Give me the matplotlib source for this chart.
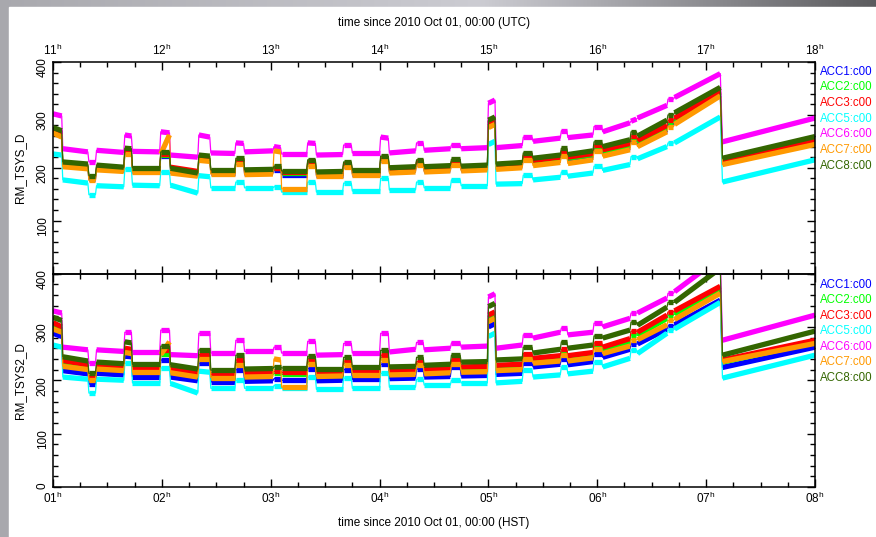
import numpy as np
import matplotlib
matplotlib.use("Agg")
import matplotlib.pyplot as plt
from matplotlib.collections import LineCollection
from matplotlib.patches import Rectangle
from matplotlib.ticker import MultipleLocator, FixedLocator

plt.rcParams['font.family'] = ['Liberation Sans', 'DejaVu Sans']
plt.rcParams['mathtext.default'] = 'regular'

# Knot times (hours HST), grouped as (segment start, segment end) pairs
t_knots = [1.00, 1.08, 1.09, 1.32, 1.33, 1.39, 1.40, 1.65, 1.66, 1.72,
           1.73, 1.98, 1.99, 2.07, 2.08, 2.33, 2.34, 2.44, 2.45, 2.67,
           2.68, 2.75, 2.76, 3.02, 3.03, 3.09, 3.10, 3.33, 3.34, 3.41,
           3.42, 3.66, 3.67, 3.74, 3.75, 4.00, 4.01, 4.08, 4.09, 4.33,
           4.34, 4.40, 4.41, 4.65, 4.66, 4.74, 4.75, 4.99, 5.00, 5.06,
           5.07, 5.31, 5.32, 5.40, 5.41, 5.66, 5.67, 5.72, 5.73, 5.96,
           5.97, 6.04, 6.05, 6.30, 6.31, 6.36, 6.37, 6.64, 6.65, 6.70,
           6.71, 7.13, 7.15, 8.00]

hst_hours = [1, 2, 3, 4, 5, 6, 7, 8]
utc_hours = [11, 12, 13, 14, 15, 16, 17, 18]

names = ['ACC1:c00', 'ACC2:c00', 'ACC3:c00', 'ACC5:c00',
         'ACC6:c00', 'ACC7:c00', 'ACC8:c00']
colors = ['#0000ff', '#00ff00', '#ff0000', '#00ffff',
          '#ff00ff', '#ff9900', '#336600']

# RM_TSYS_D
tsys_acc1 = [268, 262, 204, 200, 178, 178, 198, 195, 229, 228,
             194, 194, 222, 222, 193, 186, 216, 214, 190, 190,
             210, 210, 189, 190, 196, 196, 187, 187, 207, 207,
             186, 186, 204, 204, 189, 189, 214, 214, 193, 195,
             208, 208, 194, 196, 208, 208, 196, 198, 278, 284,
             200, 203, 218, 218, 208, 214, 226, 226, 213, 220,
             236, 236, 226, 238, 250, 250, 242, 272, 282, 282,
             286, 338, 208, 247]
tsys_acc2 = [270, 264, 207, 203, 182, 182, 201, 198, 232, 231,
             197, 197, 225, 225, 197, 190, 219, 217, 193, 193,
             213, 213, 193, 194, 199, 199, 191, 191, 211, 211,
             190, 190, 207, 207, 193, 193, 217, 217, 196, 198,
             211, 211, 198, 200, 211, 211, 199, 201, 282, 288,
             203, 206, 222, 222, 212, 218, 230, 230, 218, 225,
             240, 240, 231, 243, 256, 256, 248, 276, 286, 286,
             290, 342, 212, 251]
tsys_acc3 = [272, 266, 208, 204, 183, 183, 202, 199, 233, 232,
             198, 198, 226, 226, 201, 193, 220, 218, 194, 194,
             214, 214, 194, 195, 200, 200, 192, 192, 212, 212,
             191, 191, 208, 208, 194, 194, 218, 218, 197, 199,
             212, 212, 199, 201, 212, 212, 200, 202, 284, 290,
             204, 207, 224, 224, 214, 220, 232, 232, 220, 227,
             243, 243, 234, 246, 260, 260, 252, 280, 290, 290,
             294, 345, 214, 253]
tsys_acc5 = [226, 224, 177, 171, 149, 149, 166, 164, 198, 198,
             167, 166, 192, 192, 167, 152, 185, 183, 162, 162,
             173, 173, 162, 162, 164, 164, 154, 154, 173, 173,
             154, 154, 171, 171, 156, 156, 180, 180, 158, 158,
             173, 173, 162, 162, 177, 177, 166, 166, 244, 250,
             169, 170, 186, 186, 177, 182, 192, 192, 184, 190,
             203, 203, 195, 206, 221, 221, 217, 240, 247, 247,
             247, 296, 173, 215]
tsys_acc6 = [302, 298, 236, 230, 211, 211, 233, 229, 262, 260,
             231, 230, 268, 266, 224, 220, 262, 258, 228, 227,
             247, 246, 230, 232, 240, 238, 226, 226, 247, 246,
             224, 225, 243, 243, 228, 228, 258, 256, 228, 232,
             247, 247, 233, 236, 243, 243, 236, 238, 322, 328,
             238, 242, 258, 258, 250, 256, 270, 270, 257, 262,
             278, 278, 268, 285, 288, 292, 294, 318, 330, 330,
             333, 378, 249, 294]
tsys_acc7 = [266, 258, 202, 198, 176, 176, 196, 193, 226, 226,
             192, 192, 226, 262, 190, 184, 214, 212, 188, 188,
             208, 208, 187, 188, 232, 230, 160, 160, 204, 204,
             184, 184, 202, 202, 186, 186, 212, 212, 190, 192,
             205, 205, 192, 194, 205, 205, 194, 196, 276, 282,
             197, 200, 215, 215, 204, 210, 222, 222, 208, 215,
             232, 232, 222, 234, 248, 248, 240, 268, 278, 278,
             282, 336, 206, 244]
tsys_acc8 = [276, 270, 211, 207, 185, 185, 205, 201, 237, 236,
             200, 200, 230, 230, 199, 190, 224, 222, 196, 196,
             218, 218, 196, 197, 203, 203, 194, 194, 215, 215,
             192, 193, 211, 211, 196, 196, 222, 222, 200, 202,
             215, 215, 202, 204, 216, 216, 203, 205, 290, 296,
             207, 210, 228, 228, 218, 224, 237, 237, 225, 232,
             249, 249, 240, 253, 268, 268, 260, 290, 300, 300,
             304, 352, 218, 259]

# RM_TSYS2_D
tsys2_acc1 = [288, 282, 218, 212, 193, 193, 213, 210, 245, 244,
              207, 207, 238, 238, 206, 199, 232, 232, 197, 197,
              220, 220, 198, 199, 203, 203, 200, 200, 222, 222,
              199, 200, 220, 220, 202, 202, 230, 230, 203, 204,
              221, 221, 206, 207, 224, 224, 208, 209, 300, 306,
              211, 213, 232, 232, 225, 230, 240, 240, 229, 235,
              250, 250, 243, 258, 268, 268, 268, 296, 302, 302,
              304, 350, 224, 262]
tsys2_acc2 = [300, 294, 230, 224, 202, 202, 222, 220, 256, 255,
              218, 218, 250, 250, 216, 209, 243, 243, 207, 207,
              233, 233, 209, 210, 213, 213, 211, 211, 234, 234,
              210, 210, 232, 232, 213, 213, 243, 243, 213, 214,
              231, 231, 216, 218, 233, 233, 221, 222, 316, 322,
              224, 226, 245, 245, 236, 241, 253, 253, 241, 247,
              264, 264, 256, 272, 285, 285, 284, 316, 322, 322,
              324, 370, 234, 271]
tsys2_acc3 = [308, 300, 237, 229, 206, 206, 227, 224, 260, 258,
              222, 222, 256, 256, 221, 213, 248, 248, 211, 211,
              238, 238, 213, 214, 217, 217, 215, 215, 240, 240,
              213, 213, 236, 236, 217, 217, 247, 247, 217, 218,
              235, 235, 220, 222, 238, 238, 225, 226, 322, 328,
              228, 230, 250, 250, 241, 246, 258, 258, 246, 252,
              270, 270, 262, 278, 292, 292, 290, 322, 328, 328,
              330, 376, 238, 275]
tsys2_acc5 = [266, 262, 206, 202, 176, 176, 202, 200, 232, 232,
              195, 195, 223, 223, 194, 176, 217, 215, 185, 185,
              200, 200, 185, 185, 190, 190, 185, 185, 206, 206,
              183, 183, 204, 204, 185, 185, 213, 213, 187, 187,
              202, 202, 191, 191, 200, 200, 195, 195, 282, 288,
              195, 198, 219, 219, 206, 210, 225, 225, 212, 217,
              234, 234, 225, 241, 257, 257, 250, 288, 294, 294,
              296, 346, 204, 247]
tsys2_acc6 = [330, 326, 262, 257, 232, 232, 257, 254, 290, 290,
              253, 253, 294, 294, 248, 246, 288, 288, 251, 251,
              275, 275, 254, 254, 262, 262, 251, 251, 273, 273,
              247, 248, 269, 269, 251, 251, 288, 288, 253, 258,
              271, 271, 257, 260, 270, 270, 262, 264, 356, 362,
              260, 266, 285, 285, 279, 290, 298, 298, 285, 290,
              307, 307, 300, 316, 326, 326, 326, 354, 363, 363,
              366, 430, 275, 322]
tsys2_acc7 = [296, 290, 226, 220, 200, 200, 221, 218, 252, 250,
              215, 215, 248, 272, 214, 206, 240, 240, 205, 205,
              228, 228, 206, 207, 240, 238, 187, 187, 230, 230,
              207, 208, 228, 228, 210, 210, 238, 238, 210, 211,
              228, 228, 212, 214, 230, 230, 215, 216, 310, 316,
              218, 220, 240, 240, 232, 236, 248, 248, 236, 242,
              258, 258, 250, 264, 276, 276, 276, 304, 312, 312,
              314, 363, 235, 269]
tsys2_acc8 = [318, 312, 244, 236, 213, 213, 234, 231, 272, 270,
              230, 230, 264, 264, 229, 221, 257, 257, 219, 219,
              247, 247, 221, 222, 225, 225, 223, 223, 245, 245,
              221, 221, 243, 243, 225, 225, 256, 256, 225, 226,
              243, 243, 228, 230, 247, 247, 234, 235, 338, 344,
              238, 240, 262, 262, 251, 258, 272, 272, 260, 266,
              283, 283, 279, 294, 309, 309, 303, 337, 346, 346,
              346, 410, 247, 292]

tsys_series = [tsys_acc1, tsys_acc2, tsys_acc3, tsys_acc5,
               tsys_acc6, tsys_acc7, tsys_acc8]
tsys2_series = [tsys2_acc1, tsys2_acc2, tsys2_acc3, tsys2_acc5,
                tsys2_acc6, tsys2_acc7, tsys2_acc8]

W, H = 876, 537
fig = plt.figure(figsize=(W / 100, H / 100), dpi=100)

# grey backdrop with a white page on it
bg = fig.add_axes([0, 0, 1, 1])
xg = np.linspace(0, 1, 400)
prof = np.interp(xg, [0.0, 0.55, 1.0], [0.66, 0.80, 0.36])
img = np.repeat(prof[None, :], 50, axis=0)
rgb = np.dstack([img, img, img * 1.03]).clip(0, 1)
bg.imshow(rgb, extent=[0, 1, 0, 1], aspect='auto')
bg.add_patch(Rectangle((9 / W, 0), 1, 1 - 7 / H, color='white'))
bg.set_xlim(0, 1)
bg.set_ylim(0, 1)
bg.axis('off')

left, width = 53 / W, 762 / W
ax1 = fig.add_axes([left, 1 - 273.5 / H, width, 211.5 / H])
ax2 = fig.add_axes([left, 1 - 487 / H, width, 213.5 / H])


def draw_series(ax, vals, color):
    v = np.asarray(vals, dtype=float)
    t = np.asarray(t_knots, dtype=float)
    ax.plot(t, v, color=color, lw=0.9, zorder=2)
    segs = np.column_stack([t, v]).reshape(-1, 2, 2)
    ax.add_collection(LineCollection(segs, colors=color, linewidths=3.8,
                                     capstyle='butt', zorder=2))


for ax, series, ylab in [(ax1, tsys_series, 'RM_TSYS_D'),
                         (ax2, tsys2_series, 'RM_TSYS2_D')]:
    for vals, c in zip(series, colors):
        draw_series(ax, vals, c)
    ax.set_xlim(1, 8)
    ax.set_ylim(0, 400)
    ax.xaxis.set_major_locator(FixedLocator(hst_hours))
    ax.xaxis.set_minor_locator(MultipleLocator(0.25))
    ax.yaxis.set_major_locator(MultipleLocator(100))
    ax.yaxis.set_minor_locator(MultipleLocator(20))
    ax.tick_params(which='both', direction='in', top=True, right=True,
                   width=1, labelsize=8.5, colors='black')
    ax.tick_params(which='major', length=6, pad=3)
    ax.tick_params(which='minor', length=3.5)
    ax.tick_params(axis='y', labelrotation=90)
    for s in ax.spines.values():
        s.set_linewidth(1.1)
    ax.set_ylabel(ylab, fontsize=8.5, labelpad=8)
    ax.patch.set_alpha(0)

ax1.set_yticks([100, 200, 300, 400])
ax1.tick_params(axis='x', labelbottom=False, labeltop=True)
ax1.set_xticklabels([f'{h}$^{{h}}$' for h in utc_hours])
ax1.xaxis.set_label_position('top')
ax1.set_xlabel('time since 2010 Oct 01, 00:00 (UTC)', fontsize=8.5, labelpad=12)

ax2.set_xticklabels([f'{h:02d}$^{{h}}$' for h in hst_hours])
ax2.set_xlabel('time since 2010 Oct 01, 00:00 (HST)', fontsize=8.5, labelpad=7.5)

# channel names down the right edge
top_rows = [72, 87.5, 103, 119, 134.5, 150, 166]
bot_rows = [285, 300, 316, 331, 347, 362, 378]
for rows in (top_rows, bot_rows):
    for name, c, yp in zip(names, colors, rows):
        fig.text(820 / W, 1 - yp / H, name, color=c, fontsize=8.3,
                 va='center', ha='left')

fig.savefig('out.png', dpi=100)
